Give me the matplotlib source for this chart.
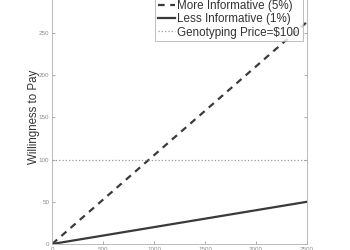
import matplotlib
matplotlib.use('Agg')
import matplotlib.pyplot as plt
import numpy as np

# Data
x_vals = [0, 2500]
more_informative = [0, 263]   # 5% line
less_informative = [0, 50]    # 1% line
price = 100
x_ticks = [0, 500, 1000, 1500, 2000, 2500]
y_ticks = [0, 50, 100, 150, 200, 250]

plt.rcParams['font.family'] = ['Liberation Sans', 'DejaVu Sans']

fig = plt.figure(figsize=(3.5, 2.5), dpi=100)
ax = fig.add_axes([0.149, 0.024, 0.728, 1.013])

line_col = '#3a3a3a'
ax.plot(x_vals, more_informative, linestyle=(0, (3, 2.5)), color=line_col,
        linewidth=1.6, label='More Informative (5%)')
ax.plot(x_vals, less_informative, linestyle='-', color=line_col,
        linewidth=1.6, label='Less Informative (1%)')
ax.axhline(price, linestyle=':', color='#9a9a9a', linewidth=0.9,
           label='Genotyping Price=$100')

ax.set_xlim(0, 2500)
ax.set_ylim(0, 300)
ax.set_xticks(x_ticks)
ax.set_yticks(y_ticks)
ax.tick_params(direction='in', length=2, width=0.5, colors='#8a8a8a',
               labelsize=4.5, pad=2, top=True, right=True)
for s in ax.spines.values():
    s.set_color('#b0b0b0')
    s.set_linewidth(0.6)

ax.set_ylabel('Willingness to Pay', fontsize=8.3, color='#333333', labelpad=-0.5)

leg = ax.legend(loc='upper right', fontsize=8.4, handlelength=1.5,
                handletextpad=0.2, borderpad=0.25, labelspacing=0.1,
                frameon=True, fancybox=False, borderaxespad=0.3,
                bbox_to_anchor=(0.997, 0.988))
leg.get_frame().set_edgecolor('#a0a0a0')
leg.get_frame().set_linewidth(0.6)
for t in leg.get_texts():
    t.set_color('#333333')

fig.savefig('out.png', dpi=100)
